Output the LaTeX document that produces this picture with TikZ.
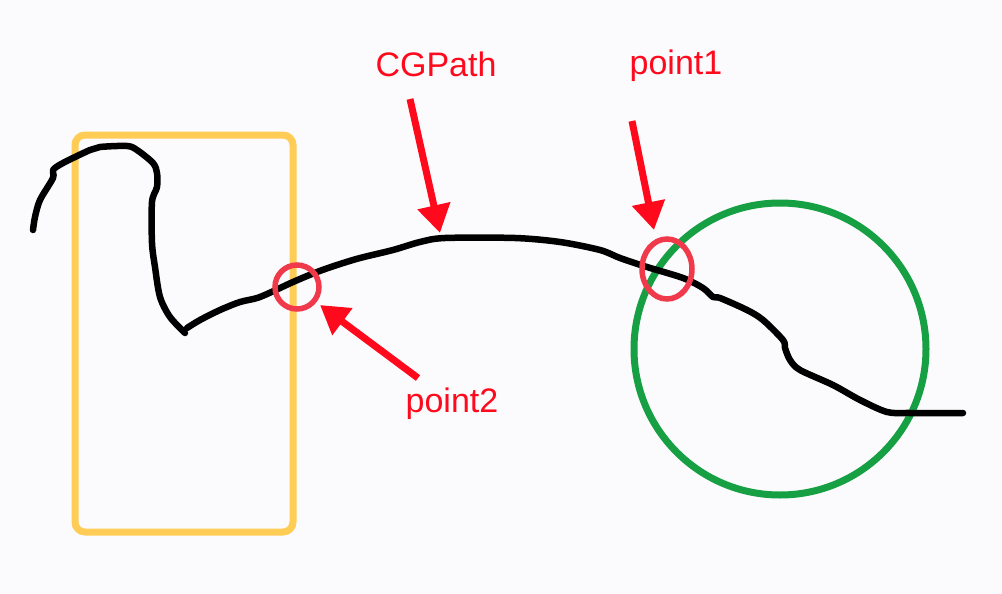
\documentclass[tikz,border=0pt]{standalone}
\usepackage{fontspec}
\setmainfont{Liberation Sans}
\usetikzlibrary{arrows.meta}
\definecolor{bgc}{HTML}{FBFBFD}
\definecolor{lblred}{HTML}{FF0A1C}
\definecolor{ringred}{HTML}{F03A4C}
\definecolor{boxyellow}{HTML}{FFCC55}
\definecolor{ringgreen}{HTML}{16A043}
\tikzset{
  lbl/.style={text=lblred, font=\fontsize{34}{40}\selectfont, anchor=base, inner sep=0pt},
  redarrow/.style={draw=lblred, line width=7pt, -{Triangle[length=28pt,width=32pt]}},
  ring/.style={draw=ringred, line width=5.5pt},
  stroke/.style={draw=black, line width=6.5pt, line cap=round, line join=round},
}
\begin{document}
\begin{tikzpicture}[x=1pt,y=-1pt]
\fill[bgc] (0,0) rectangle (1002,594);
\useasboundingbox (0,0) rectangle (1002,594);
% yellow box
\draw[boxyellow, line width=7pt, rounded corners=10pt] (75,135) rectangle (293,532);
% green circle
\draw[ringgreen, line width=7pt] (780,349) circle[radius=146];
% black hand-drawn path
\draw[stroke] plot[smooth, tension=0.5] coordinates {
 (33,230) (35,217) (40,200) (53,178) (53,170) (63,163) (90,150) (100,147)
 (127,146) (137,150) (153,163) (157,173) (157,187) (152,202) (152,243)
 (155,267) (160,297) (170,317) (185,333)};
\draw[stroke] plot[smooth, tension=0.5] coordinates {
 (187,328) (200,320) (220,310) (240,302) (260,297) (293,282) (317,272) (337,265)
 (360,258) (393,250) (420,242) (445,238) (515,238) (560,242) (600,250)
 (620,258) (647,267) (683,278) (703,288) (713,297) (720,298) (747,310)
 (763,320) (783,340) (785,348) (790,360) (800,370) (833,385) (860,400)
 (887,412) (910,413) (963,413)};
% red rings
\draw[ring] (297,287) circle[radius=22];
\draw[ring] (667,269) ellipse[x radius=25, y radius=30];
% labels
\node[lbl] (cg) at (436,77) {CGPath};
\node[lbl] (p1) at (676,75) {point1};
\node[lbl] (p2) at (452,412) {point2};
% arrow coordinates
\coordinate (cgs) at (410,99);
\coordinate (cgt) at (440,233);
\coordinate (p1s) at (632,121);
\coordinate (p1t) at (654,230);
\coordinate (p2s) at (418,378);
\coordinate (p2t) at (320,305);
\draw[redarrow] (cgs) -- (cgt);
\draw[redarrow] (p1s) -- (p1t);
\draw[redarrow] (p2s) -- (p2t);
\end{tikzpicture}
\end{document}
